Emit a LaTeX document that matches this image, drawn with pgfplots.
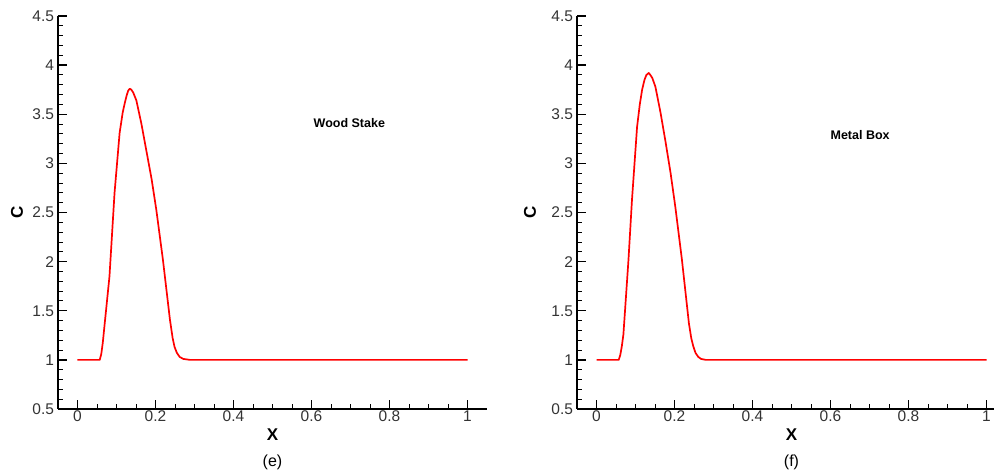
\documentclass[border=0pt]{standalone}
\usepackage{fontspec}
\setmainfont{Liberation Sans}
\usepackage{pgfplots}
\pgfplotsset{compat=1.18}
\pgfplotsset{
  tecstyle/.style={
    scale only axis,
    height=393pt,
    xmin=-0.05, ymin=0.5, ymax=4.5,
    axis lines=left,
    axis line style={-, line width=1.6pt},
    xtick={0,0.2,0.4,0.6,0.8,1},
    ytick={0.5,1,1.5,2,2.5,3,3.5,4,4.5},
    minor x tick num=3,
    minor y tick num=4,
    tick align=inside,
    major tick length=9pt,
    minor tick length=5pt,
    every tick/.style={black, line width=1.3pt},
    minor tick style={line width=0.9pt},
    tick label style={font=\fontsize{15.5}{17}\selectfont, text=black!80},
    /pgf/number format/assume math mode=true,
    yticklabel style={xshift=-0.5pt},
    xticklabel style={yshift=2pt},
    clip=false,
  }
}
\begin{document}
\begin{tikzpicture}
\path[use as bounding box] (0pt,0pt) rectangle (994pt,473pt);
\begin{axis}[tecstyle, at={(58pt,64pt)}, anchor=south west, width=429pt, xmax=1.05]
\addplot[red, line width=1.7pt, line join=round] coordinates {
(0,1) (0.057,1) (0.061,1.06) (0.065,1.18) (0.068,1.30) (0.082,1.85) (0.095,2.70) (0.108,3.31)
(0.116,3.52) (0.121,3.61) (0.126,3.69) (0.130,3.74) (0.134,3.76) (0.138,3.75) (0.143,3.72) (0.151,3.64) (0.164,3.40)
(0.177,3.12) (0.190,2.84) (0.202,2.53) (0.219,2.02) (0.237,1.41) (0.244,1.22) (0.249,1.13)
(0.255,1.07) (0.262,1.03) (0.271,1.01) (0.288,1.0) (1.0,1.0)};
\node[font=\bfseries\fontsize{12.5}{14}\selectfont] at (axis cs:0.697,3.41) {Wood Stake};
\node[font=\bfseries\fontsize{17}{19}\selectfont] at ([yshift=-26pt]axis cs:0.5,0.5) {X};
\node[font=\fontsize{16}{18}\selectfont] at ([yshift=-53pt]axis cs:0.5,0.5) {(e)};
\node[font=\bfseries\fontsize{17}{19}\selectfont, rotate=90] at ([xshift=-41pt]rel axis cs:0,0.5) {C};
\end{axis}
\begin{axis}[tecstyle, at={(577pt,64pt)}, anchor=south west, width=417pt, xmax=1.0192]
\addplot[red, line width=1.7pt, line join=round] coordinates {
(0,1) (0.057,1) (0.061,1.05) (0.065,1.14) (0.069,1.26) (0.082,2.02) (0.091,2.63) (0.104,3.37)
(0.111,3.60) (0.117,3.75) (0.123,3.85) (0.128,3.90) (0.134,3.92) (0.138,3.90) (0.143,3.87) (0.151,3.78) (0.164,3.52)
(0.177,3.22) (0.190,2.90) (0.202,2.56) (0.219,2.02) (0.237,1.37) (0.243,1.22) (0.248,1.14)
(0.254,1.07) (0.261,1.03) (0.268,1.01) (0.280,1.0) (1.0,1.0)};
\node[font=\bfseries\fontsize{12.5}{14}\selectfont] at (axis cs:0.676,3.29) {Metal Box};
\node[font=\bfseries\fontsize{17}{19}\selectfont] at ([yshift=-26pt]axis cs:0.5,0.5) {X};
\node[font=\fontsize{16}{18}\selectfont] at ([yshift=-53pt]axis cs:0.5,0.5) {(f)};
\node[font=\bfseries\fontsize{17}{19}\selectfont, rotate=90] at ([xshift=-47pt]rel axis cs:0,0.5) {C};
\end{axis}
\end{tikzpicture}
\end{document}
